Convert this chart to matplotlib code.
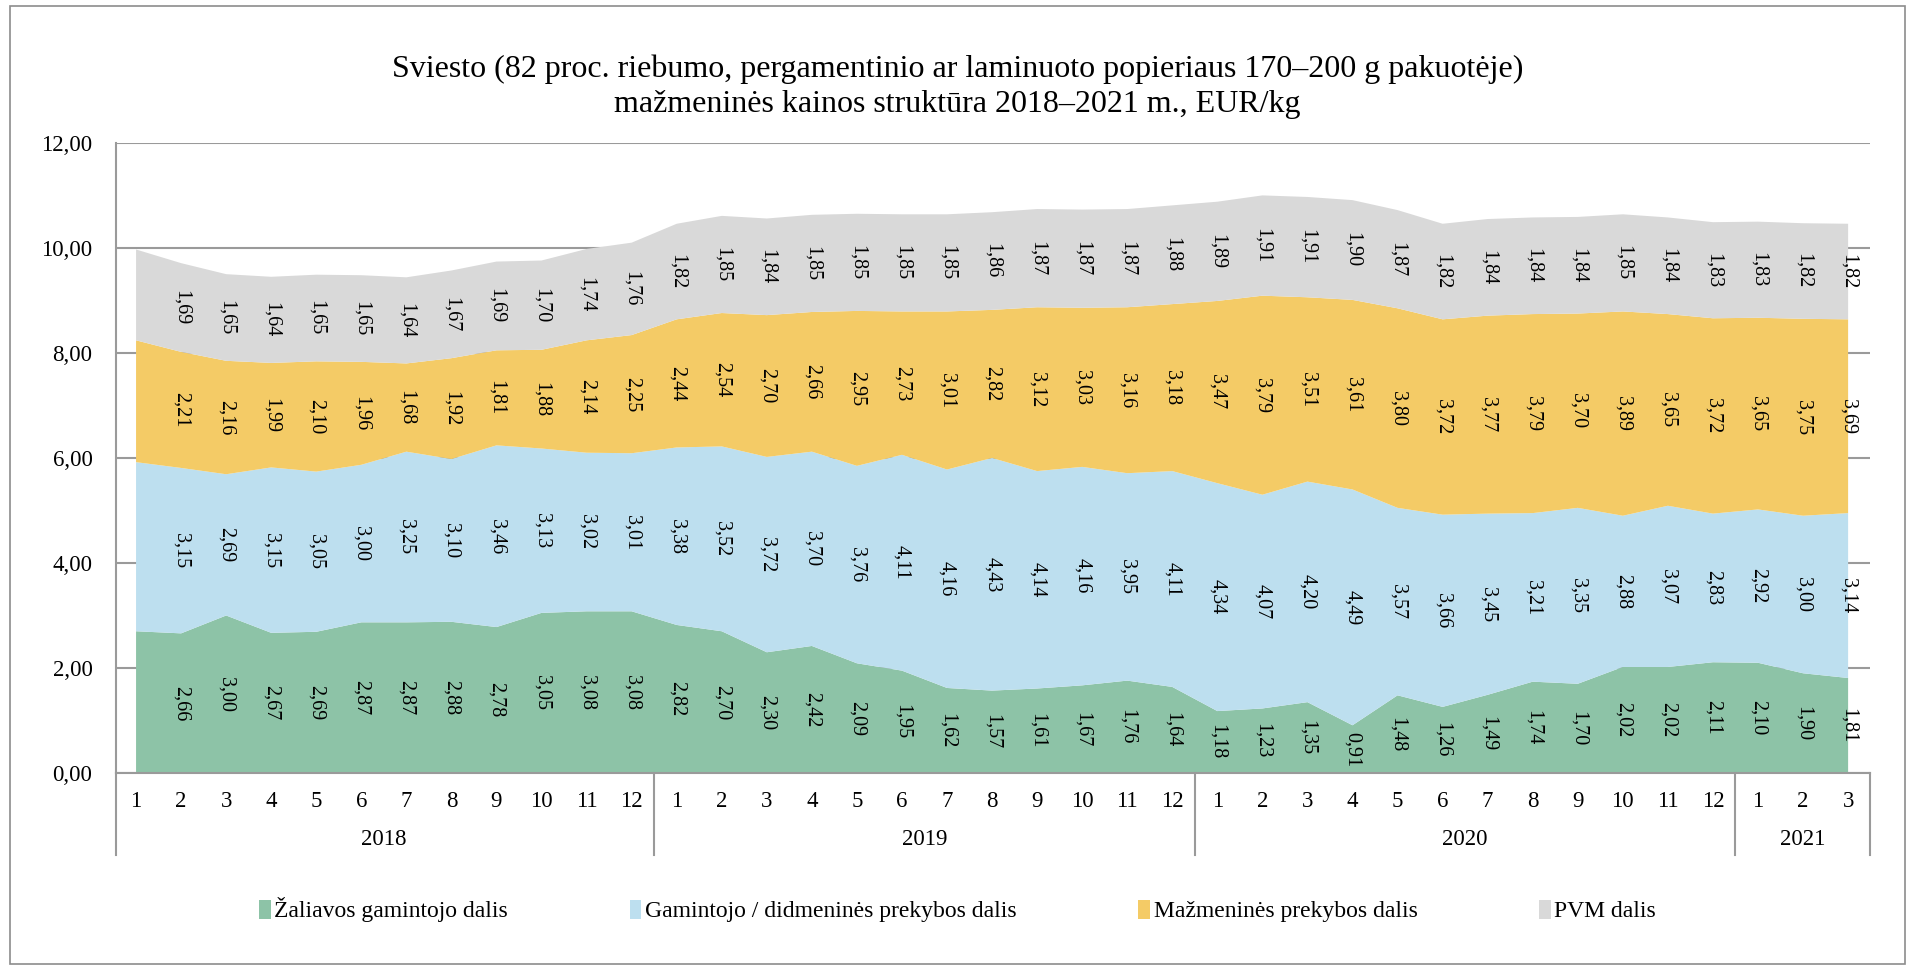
import matplotlib
matplotlib.use('Agg')
import matplotlib.pyplot as plt
from matplotlib.patches import Rectangle
from matplotlib.ticker import FuncFormatter
import numpy as np

plt.rcParams['font.family'] = ['Liberation Serif', 'DejaVu Serif']

YEARS = ['2018', '2019', '2020', '2021']
YEAR_MONTHS = [12, 12, 12, 3]

# EUR/kg, 2018-01 .. 2021-03
GREEN = [2.70, 2.66, 3.00, 2.67, 2.69, 2.87, 2.87, 2.88, 2.78, 3.05, 3.08, 3.08,
         2.82, 2.70, 2.30, 2.42, 2.09, 1.95, 1.62, 1.57, 1.61, 1.67, 1.76, 1.64,
         1.18, 1.23, 1.35, 0.91, 1.48, 1.26, 1.49, 1.74, 1.70, 2.02, 2.02, 2.11,
         2.10, 1.90, 1.81]
BLUE = [3.22, 3.15, 2.69, 3.15, 3.05, 3.00, 3.25, 3.10, 3.46, 3.13, 3.02, 3.01,
        3.38, 3.52, 3.72, 3.70, 3.76, 4.11, 4.16, 4.43, 4.14, 4.16, 3.95, 4.11,
        4.34, 4.07, 4.20, 4.49, 3.57, 3.66, 3.45, 3.21, 3.35, 2.88, 3.07, 2.83,
        2.92, 3.00, 3.14]
YELLOW = [2.32, 2.21, 2.16, 1.99, 2.10, 1.96, 1.68, 1.92, 1.81, 1.88, 2.14, 2.25,
          2.44, 2.54, 2.70, 2.66, 2.95, 2.73, 3.01, 2.82, 3.12, 3.03, 3.16, 3.18,
          3.47, 3.79, 3.51, 3.61, 3.80, 3.72, 3.77, 3.79, 3.70, 3.89, 3.65, 3.72,
          3.65, 3.75, 3.69]
GREY = [1.73, 1.69, 1.65, 1.64, 1.65, 1.65, 1.64, 1.67, 1.69, 1.70, 1.74, 1.76,
        1.82, 1.85, 1.84, 1.85, 1.85, 1.85, 1.85, 1.86, 1.87, 1.87, 1.87, 1.88,
        1.89, 1.91, 1.91, 1.90, 1.87, 1.82, 1.84, 1.84, 1.84, 1.85, 1.84, 1.83,
        1.83, 1.82, 1.82]

SERIES = ['Žaliavos gamintojo dalis', 'Gamintojo / didmeninės prekybos dalis',
          'Mažmeninės prekybos dalis', 'PVM dalis']
COLORS = ['#8dc3a7', '#bddfef', '#f4cb66', '#d9d9d9']
LINE_COLOR = '#9a9a9a'


def comma(v, pos=None):
    return f'{v:.2f}'.replace('.', ',')


def create_graph():
    fig = plt.figure(figsize=(19.15, 9.68), dpi=100)
    fig.patches.append(Rectangle((0.005, 0.004), 0.99, 0.99, transform=fig.transFigure,
                                 fill=False, edgecolor='#8c8c8c', linewidth=1.2))
    ax = fig.add_axes([0.0606, 0.2014, 0.916, 0.651])

    months = []
    for n in YEAR_MONTHS:
        months += [str(m) for m in range(1, n + 1)]
    x = np.arange(len(months))
    data = [GREEN, BLUE, YELLOW, GREY]

    ax.stackplot(x, *data, colors=COLORS, labels=SERIES, linewidth=0, zorder=2)

    ax.set_xlim(-0.444, 38.49)
    ax.set_ylim(0, 12)
    ax.set_yticks(np.arange(0, 12.01, 2))
    ax.yaxis.set_major_formatter(FuncFormatter(comma))
    ax.grid(axis='y', color=LINE_COLOR, linewidth=1.5, zorder=1)
    ax.set_axisbelow(True)
    for side in ['top', 'right']:
        ax.spines[side].set_visible(False)
    ax.spines['left'].set_color(LINE_COLOR)
    ax.spines['bottom'].set_color(LINE_COLOR)
    ax.spines['left'].set_linewidth(1.5)
    ax.spines['bottom'].set_linewidth(1.5)
    ax.spines['bottom'].set_zorder(3)
    ax.tick_params(axis='y', length=0, pad=17, labelsize=16.5)
    ax.set_xticks(x)
    ax.set_xticklabels(months)
    ax.tick_params(axis='x', length=0, pad=13, labelsize=16.5)

    # data labels, centred in each band (first month has none in the original)
    bottom = np.zeros(len(x))
    for vals in data:
        vals = np.array(vals)
        for i in range(1, len(x)):
            ax.text(x[i], bottom[i] + vals[i] / 2, comma(vals[i]), rotation=270,
                    ha='center', va='center', fontsize=14.5, zorder=4)
        bottom += vals

    # two-level category axis: year boxes
    trans = ax.get_xaxis_transform()
    low = -0.13
    bounds = [-0.444]
    start = 0
    for year, n in zip(YEARS, YEAR_MONTHS):
        ax.text(start + (n - 1) / 2, -0.105, year, transform=trans,
                ha='center', va='center', fontsize=16.5)
        start += n
        bounds.append(start - 0.5 if start < len(x) else 38.49)
    for b in bounds:
        ax.plot([b, b], [0, low], transform=trans, color=LINE_COLOR,
                linewidth=1.5, clip_on=False)

    fig.text(0.5, 0.910, 'Sviesto (82 proc. riebumo, pergamentinio ar laminuoto popieriaus 170–200 g pakuotėje)\n'
             'mažmeninės kainos struktūra 2018–2021 m., EUR/kg',
             ha='center', va='center', fontsize=23, linespacing=1.27)

    fig.legend(loc='center', bbox_to_anchor=(0.5, 0.06), ncol=4, frameon=False,
               fontsize=17, handlelength=0.5, handleheight=0.85, handletextpad=0.15,
               columnspacing=5.15)

    plt.savefig('out.png', format='png')
    print('file saved out.png')


if __name__ == '__main__':
    create_graph()
